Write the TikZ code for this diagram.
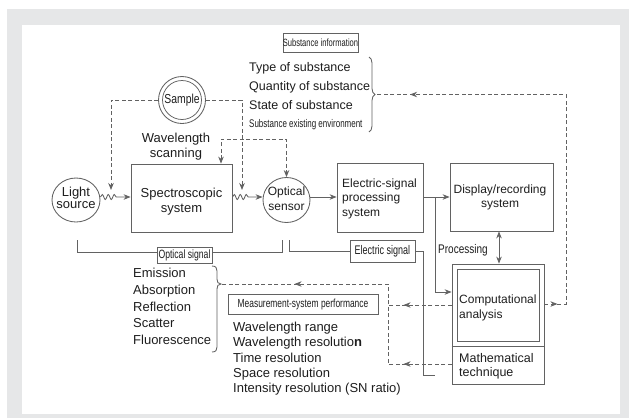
\documentclass[tikz,border=0pt]{standalone}
\usepackage{fontspec}
\setmainfont{Liberation Sans}
\newfontfamily\condf{Liberation Sans}[FakeStretch=0.72]
\newfontfamily\condg{Liberation Sans}[FakeStretch=0.8]
\usetikzlibrary{arrows.meta,decorations.pathmorphing,decorations.markings,decorations.pathreplacing,shapes.geometric}
\definecolor{framec}{HTML}{E6E7E8}
\definecolor{lc}{HTML}{626262}
\definecolor{tc}{HTML}{1E1E1E}
\newcommand{\myfs}[1]{\fontsize{#1}{#1}\selectfont}
\begin{document}
\begin{tikzpicture}[x=1pt,y=-1pt,
  >={Stealth[length=7pt,width=5.5pt]},
  lin/.style={draw=lc,line width=0.85pt},
  dsh/.style={lin,dash pattern=on 4pt off 2.5pt},
  blk/.style={lin,rectangle,inner sep=0pt},
  txt/.style={inner sep=0pt,text=tc,font=\myfs{13}},
  lbl/.style={draw=lc,line width=0.75pt,rectangle,inner sep=0pt,text=tc},
  marrow/.style={postaction={decorate,decoration={markings,mark=at position #1 with {\arrow[lc]{>}}}}},
  wavy/.style={lin,->,decorate,decoration={snake,amplitude=2.5pt,segment length=6pt,post length=13pt}}
]
% background
\fill[white] (0,0) rectangle (629,418);
\fill[framec] (7,9) rectangle (629,418);
\fill[white] (22,25) rectangle (620,414);
\useasboundingbox (0,0) rectangle (629,418);

% ---------- shapes ----------
\node[lin,ellipse,minimum width=48pt,minimum height=44pt,inner sep=0pt] (light) at (76,200) {};
\node[lin,ellipse,minimum width=47pt,minimum height=45pt,inner sep=0pt] (sens) at (286.5,200) {};
\node[lin,circle,minimum size=47pt,inner sep=0pt,text=tc,font=\condg\myfs{13}] (samp) at (182,100) {Sample};
\draw[lin,line width=0.75pt] (samp.center) circle[radius=19.5];
\node[blk,minimum width=101pt,minimum height=68pt] (spec) at (181.5,198) {};
\node[blk,minimum width=86pt,minimum height=69pt] (elec) at (380,197.5) {};
\node[blk,minimum width=103pt,minimum height=68pt] (disp) at (501.5,197) {};
\node[blk,minimum width=92pt,minimum height=120pt] (comp) at (498,324) {};
\node[blk,minimum width=82pt,minimum height=72pt] (compin) at (498,305) {};
\coordinate (dv) at (0,346);
\draw[lin] (comp.west |- dv) -- (comp.east |- dv);

% ---------- label boxes ----------
\node[lbl,font=\condf\myfs{10.5},minimum width=75pt,minimum height=19pt] (subinfo) at (320.5,42.5) {Substance information};
\node[lbl,font=\condf\myfs{12},minimum width=55pt,minimum height=16pt] (osig) at (184.5,255) {Optical signal};
\node[lbl,font=\condf\myfs{12.5},minimum width=65pt,minimum height=22pt] (esig) at (382.5,251) {Electric signal};
\node[lbl,font=\condf\myfs{11.7},minimum width=150pt,minimum height=20pt] (msp) at (303,304) {Measurement-system performance};

% ---------- texts ----------
\node[txt,anchor=base west,font=\myfs{12.5}] at (249,71) {Type of substance};
\node[txt,anchor=base west,font=\myfs{12.5}] at (249,90) {Quantity of substance};
\node[txt,anchor=base west,font=\myfs{12.5}] at (249,109) {State of substance};
\node[txt,anchor=base west,font=\condf\myfs{11.1}] at (249,127) {Substance existing environment};

\node[txt,anchor=base] at (176,142) {Wavelength};
\node[txt,anchor=base] at (176,157) {scanning};

\node[txt,anchor=base] at (76,196) {Light};
\node[txt,anchor=base] at (76,208) {source};
\node[txt,anchor=base] at (181.5,197) {Spectroscopic};
\node[txt,anchor=base] at (181.5,212) {system};
\node[txt,anchor=base,font=\myfs{12}] at (286.5,195) {Optical};
\node[txt,anchor=base,font=\myfs{12}] at (286.5,210) {sensor};
\node[txt,anchor=base west,font=\myfs{12}] at (342,187) {Electric-signal};
\node[txt,anchor=base west,font=\myfs{12}] at (342,201) {processing};
\node[txt,anchor=base west,font=\myfs{12}] at (342,216) {system};
\node[txt,anchor=base,font=\myfs{12}] at (500,193) {Display/recording};
\node[txt,anchor=base,font=\myfs{12}] at (500,207) {system};
\node[txt,anchor=base west,font=\condg\myfs{12.5}] (proc) at (438,253) {Processing};
\node[txt,anchor=base west,font=\myfs{12}] at (459,303) {Computational};
\node[txt,anchor=base west,font=\myfs{12}] at (459,318) {analysis};
\node[txt,anchor=base west,font=\myfs{12.5}] at (459,362) {Mathematical};
\node[txt,anchor=base west,font=\myfs{12.5}] at (459,376) {technique};

\node[txt,anchor=base west] at (133,277) {Emission};
\node[txt,anchor=base west] at (133,294) {Absorption};
\node[txt,anchor=base west] at (133,311) {Reflection};
\node[txt,anchor=base west] at (133,327) {Scatter};
\node[txt,anchor=base west] at (133,344) {Fluorescence};

\node[txt,anchor=base west] at (233,331) {Wavelength range};
\node[txt,anchor=base west] at (233,346) {Wavelength resolutio\textbf{n}};
\node[txt,anchor=base west] at (233,362) {Time resolution};
\node[txt,anchor=base west] at (233,377) {Space resolution};
\node[txt,anchor=base west] at (233,392) {Intensity resolution (SN ratio)};

% ---------- braces ----------
\draw[lin,decorate,decoration={brace,amplitude=6pt}] (369,57) -- (369,132);
\coordinate (sbtip) at (375,94.5);
\draw[lin] (212,266) .. controls (216,266) and (217,268) .. (217,271) -- (217,279)
  .. controls (217,282) and (218,284) .. (221,284)
  .. controls (218,284) and (217,286) .. (217,289) -- (217,347)
  .. controls (217,350) and (216,352) .. (212,352);
\coordinate (ebtip) at (221,284);

% ---------- main axis ----------
\coordinate (ax) at (0,197);
\draw[wavy] (light.east |- ax) -- (spec.west |- ax);
\draw[wavy] (spec.east |- ax) -- (sens.west |- ax);
\draw[lin,->] (sens.east |- ax) -- (elec.west |- ax);
\draw[lin,->] (elec.east |- ax) -- (disp.west |- ax);
\coordinate (br) at (435,197);
\coordinate (c1) at (0,292);
\draw[lin,->] (br) |- (comp.west |- c1);
\coordinate (px) at (499,0);
\draw[lin,<->] (disp.south -| px) -- (comp.north -| px);

% ---------- sample dashed ----------
\coordinate (w1) at (111,190);
\coordinate (w2) at (242,190);
\draw[dsh,->] (samp.west) -| (w1);
\draw[dsh,->] (samp.east) -| (w2);

% ---------- wavelength scanning ----------
\coordinate (wsc) at (221,139);
\draw[dsh,<->] (spec.north -| wsc) |- (sens.north |- wsc) -- (sens.north);

% ---------- feedback dashed ----------
\coordinate (rc) at (566,304);
\draw[dsh,postaction={decorate,decoration={markings,
   mark=at position 13pt with {\arrow[lc]{>}},
   mark=at position 387pt with {\arrow[lc]{>}}}}]
  (comp.east |- rc) -- (rc) |- (sbtip);
\coordinate (vx) at (388,0);
\coordinate (cl) at (0,305);
\coordinate (ml) at (0,364);
\draw[dsh,marrow=48pt] (comp.west |- cl) -- (vx |- cl);
\draw[dsh,postaction={decorate,decoration={markings,
   mark=at position 48pt with {\arrow[lc]{>}},
   mark=at position 237pt with {\arrow[lc]{>}}}}]
  (comp.west |- ml) -- (vx |- ml) |- (ebtip);

% ---------- signal brackets ----------
\coordinate (ob1) at (77,240);
\coordinate (ob2) at (282,240);
\coordinate (oby) at (0,252);
\draw[lin,line width=0.75pt] (ob1) |- (osig.west |- oby);
\draw[lin,line width=0.75pt] (osig.east |- oby) -| (ob2);
\coordinate (eb1) at (289,240);
\coordinate (eb2) at (423,0);
\coordinate (eb3) at (435,375);
\draw[lin,line width=0.75pt] (eb1) |- (esig.west);
\draw[lin,line width=0.75pt] (esig.east) -| (eb2 |- eb3) -- (eb3);
\end{tikzpicture}
\end{document}
